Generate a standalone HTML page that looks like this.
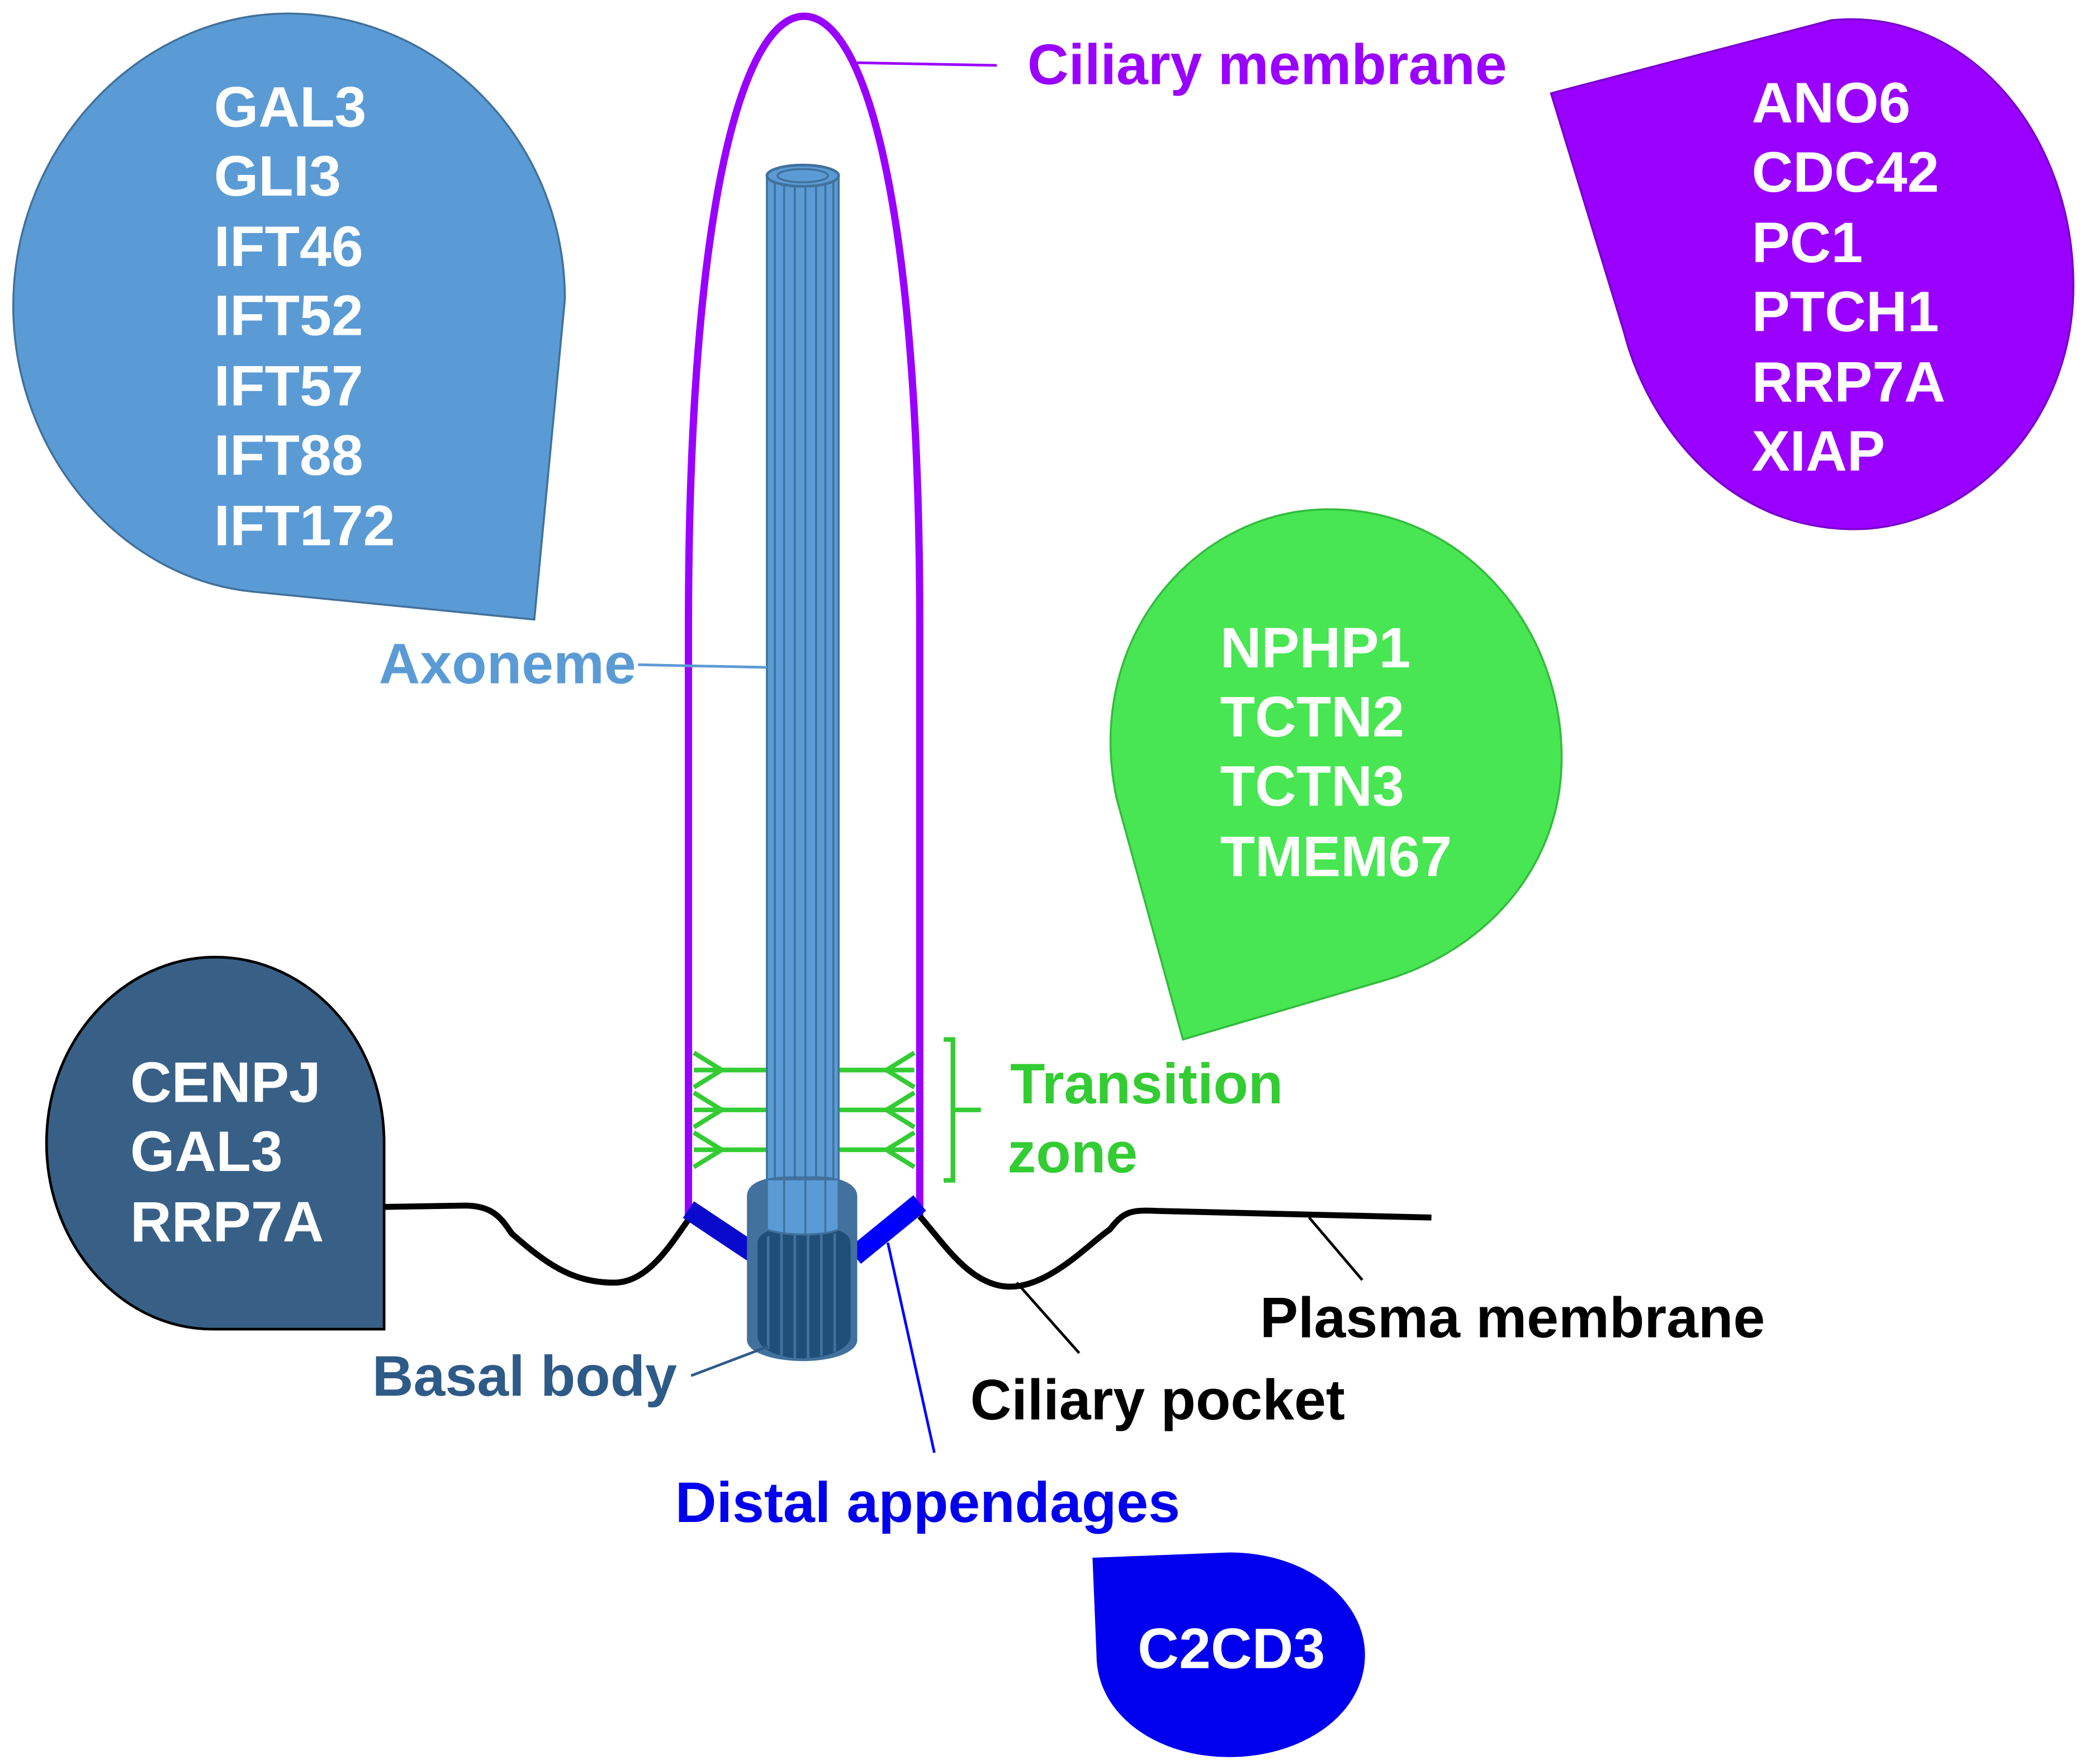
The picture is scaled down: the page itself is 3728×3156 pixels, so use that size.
<!DOCTYPE html>
<html><head><meta charset="utf-8"><style>
html,body{margin:0;padding:0;background:#fff;}
svg{display:block;}
text{font-family:"Liberation Sans",Arial,sans-serif;font-weight:bold;font-size:43px;}
</style></head><body>
<svg width="3728" height="3156" viewBox="0 0 1568 1327" xmlns="http://www.w3.org/2000/svg">
<path d="M425,225 L402,466 L190,445 C90,435 10,340 10,230 C10,110 105,10 217,10 C330,10 425,105 425,225 Z" fill="#5b9bd5" stroke="#41719c" stroke-width="1.5"/>
<path d="M1167,70 L1378,15 C1480,5 1560,100 1560,215 C1560,320 1480,398 1395,398 C1300,398 1240,320 1222,250 Z" fill="#9900ff" stroke="#7a00cc" stroke-width="1.5"/>
<path d="M890,782 L840,600 C815,480 900,383 1000,383 C1100,383 1175,470 1175,570 C1175,650 1120,715 1040,738 Z" fill="#47e652" stroke="#33bb3d" stroke-width="1.5"/>
<path d="M289,1000 L160,1000 C90,1000 35,935 35,860 C35,780 95,720 162,720 C230,720 289,780 289,860 Z" fill="#386087" stroke="#000" stroke-width="2"/>
<path d="M822,1172 L925,1168 C985,1168 1027,1205 1027,1245 C1027,1290 980,1322 925,1322 C870,1322 825,1290 825,1245 Z" fill="#0000ee"/>
<g fill="#fff">
<text x="161" y="95">GAL3</text><text x="161" y="147">GLI3</text><text x="161" y="200">IFT46</text><text x="161" y="252">IFT52</text><text x="161" y="305">IFT57</text><text x="161" y="357">IFT88</text><text x="161" y="410">IFT172</text>
<text x="1318" y="92">ANO6</text><text x="1318" y="144">CDC42</text><text x="1318" y="197">PC1</text><text x="1318" y="249">PTCH1</text><text x="1318" y="302">RRP7A</text><text x="1318" y="354">XIAP</text>
<text x="918" y="502">NPHP1</text><text x="918" y="554">TCTN2</text><text x="918" y="606">TCTN3</text><text x="918" y="659">TMEM67</text>
<text x="98" y="829">CENPJ</text><text x="98" y="881">GAL3</text><text x="98" y="934">RRP7A</text>
<text x="856" y="1255">C2CD3</text>
</g>
<path d="M518,915 L518,470 C518,150 560,12 605,12 C650,12 692,150 692,470 L692,915" fill="none" stroke="#9900ff" stroke-width="5.5"/>
<line x1="645" y1="47" x2="750" y2="49" stroke="#9900ff" stroke-width="2"/>
<path d="M289,908 L350,907 C372,907 378,918 385,928 C410,950 430,965 462,965 C490,965 508,930 520,915" fill="none" stroke="#000" stroke-width="4.5"/>
<path d="M692,915 C710,935 730,968 760,968 C790,968 820,935 835,925 C845,912 850,910 870,911 L1077,916" fill="none" stroke="#000" stroke-width="4.5"/>
<line x1="985" y1="916" x2="1025" y2="963" stroke="#000" stroke-width="2"/>
<line x1="765" y1="965" x2="812" y2="1018" stroke="#000" stroke-width="2"/>
<line x1="518" y1="910" x2="566" y2="942" stroke="#0a0acc" stroke-width="15"/>
<line x1="692" y1="905" x2="643" y2="945" stroke="#0000ff" stroke-width="15"/>
<line x1="668" y1="935" x2="703" y2="1093" stroke="#0000ff" stroke-width="2"/>
<g stroke="#33cc33" stroke-width="3.5" fill="none">
<path d="M522,805 L577,805 M522,835 L577,835 M522,865 L577,865"/>
<path d="M522,792 L543,805 L522,818 M522,822 L543,835 L522,848 M522,852 L543,865 L522,878"/>
<path d="M631,805 L688,805 M631,835 L688,835 M631,865 L688,865"/>
<path d="M688,792 L667,805 L688,818 M688,822 L667,835 L688,848 M688,852 L667,865 L688,878"/>
<path d="M710,782 L717,782 L717,888 L710,888 M717,835 L738,835"/>
</g>
<rect x="577" y="132" width="54" height="880" fill="#5b9bd5" stroke="#41719c" stroke-width="1.5"/>
<g stroke="#41719c" stroke-width="1.5">
<line x1="583" y1="132" x2="583" y2="1000"/><line x1="590" y1="132" x2="590" y2="1000"/><line x1="598" y1="132" x2="598" y2="1000"/><line x1="606" y1="132" x2="606" y2="1000"/><line x1="614" y1="132" x2="614" y2="1000"/><line x1="621" y1="132" x2="621" y2="1000"/><line x1="627" y1="132" x2="627" y2="1000"/>
</g>
<ellipse cx="604" cy="132" rx="27" ry="8" fill="#5b9bd5" stroke="#41719c" stroke-width="2"/>
<ellipse cx="604" cy="132" rx="19" ry="5" fill="none" stroke="#41719c" stroke-width="1.5"/>
<path d="M562,900 C562,888 580,885 595,885 L615,885 C630,885 645,890 645,900 L645,1008 C645,1018 625,1024 604,1024 C583,1024 562,1018 562,1008 Z" fill="#41719c"/>
<path d="M570,935 C570,925 590,922 604,922 C620,922 640,925 640,935 L640,1005 C640,1015 622,1022 604,1022 C586,1022 570,1015 570,1005 Z" fill="#1f4e79"/>
<g stroke="#41719c" stroke-width="2">
<line x1="578" y1="930" x2="578" y2="1015"/><line x1="588" y1="927" x2="588" y2="1020"/><line x1="598" y1="926" x2="598" y2="1022"/><line x1="608" y1="926" x2="608" y2="1022"/><line x1="618" y1="927" x2="618" y2="1020"/><line x1="628" y1="928" x2="628" y2="1017"/>
</g>
<path d="M577,888 L577,925 C590,930 620,930 631,925 L631,888" fill="#5b9bd5" stroke="#41719c" stroke-width="1.5"/>
<g stroke="#41719c" stroke-width="1.5"><line x1="590" y1="888" x2="590" y2="928"/><line x1="606" y1="888" x2="606" y2="929"/><line x1="621" y1="888" x2="621" y2="928"/></g>
<text x="773" y="63" fill="#9900ff">Ciliary membrane</text>
<text x="285" y="514" fill="#5b9bd5">Axoneme</text>
<line x1="480" y1="500" x2="577" y2="502" stroke="#5b9bd5" stroke-width="2"/>
<text x="760" y="830" fill="#33cc33">Transition</text>
<text x="758" y="882" fill="#33cc33">zone</text>
<text x="948" y="1006" fill="#000">Plasma membrane</text>
<text x="730" y="1068" fill="#000">Ciliary pocket</text>
<text x="280" y="1050" fill="#2e5a87">Basal body</text>
<line x1="520" y1="1035" x2="578" y2="1013" stroke="#2e5a87" stroke-width="2"/>
<text x="508" y="1145" fill="#0000ee">Distal appendages</text>
</svg>
</body></html>
